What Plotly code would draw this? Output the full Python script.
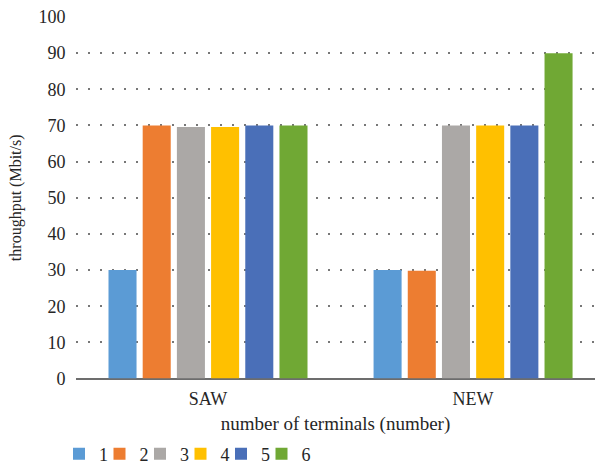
import plotly.graph_objects as go

categories = ["SAW", "NEW"]
series_names = ["1", "2", "3", "4", "5", "6"]
values = {
    "1": [30, 30],
    "2": [70, 29.8],
    "3": [69.6, 70],
    "4": [69.6, 70],
    "5": [70, 70],
    "6": [70, 90],
}
colors = ["#5B9BD5", "#ED7D31", "#ABA8A6", "#FFC000", "#4A6FB8", "#70A834"]
y_ticks = list(range(0, 101, 10))

W, H = 597, 464
font = "Liberation Serif"
fig = go.Figure()
legend_layout = {}
for i, (name, c) in enumerate(zip(series_names, colors)):
    key = f"legend{i+2}"
    fig.add_trace(go.Bar(name=name, x=categories, y=values[name], marker_color=c,
                         marker_line_width=0, legend=key))
    legend_layout[key] = dict(
        orientation="h",
        xref="container", yref="container",
        x=(59 + 40.5 * i) / W, xanchor="left",
        y=1 - 454 / H, yanchor="middle",
        font=dict(size=18, family=font, color="#262626"),
        itemwidth=30, bgcolor="rgba(0,0,0,0)", borderwidth=0,
    )

fig.update_layout(
    width=W, height=H,
    margin=dict(l=76, r=2, t=17, b=81),
    plot_bgcolor="white", paper_bgcolor="white",
    barmode="group", bargap=0.226, bargroupgap=0.18,
    font=dict(family=font, size=18, color="#262626"),
    showlegend=True,
    xaxis=dict(title=dict(text="number of terminals (number)", standoff=11, font=dict(size=19)),
               range=[-0.498, 1.46],
               showline=False, ticks="outside", ticklen=4, tickcolor="rgba(0,0,0,0)",
               tickfont=dict(size=18)),
    yaxis=dict(title=dict(text="throughput (Mbit/s)", font=dict(size=16), standoff=12),
               range=[0, 100], tickvals=y_ticks, showgrid=True, gridcolor="#777777",
               griddash="2px,10px", gridwidth=1.5, zeroline=True, zerolinecolor="#6d6d6d",
               zerolinewidth=2, ticks="outside", ticklen=6, tickcolor="rgba(0,0,0,0)",
               tickfont=dict(size=18)),
    **legend_layout,
)
fig.write_html("out.html", config={"displayModeBar": False},
               post_script="document.body.style.margin='0px';")
